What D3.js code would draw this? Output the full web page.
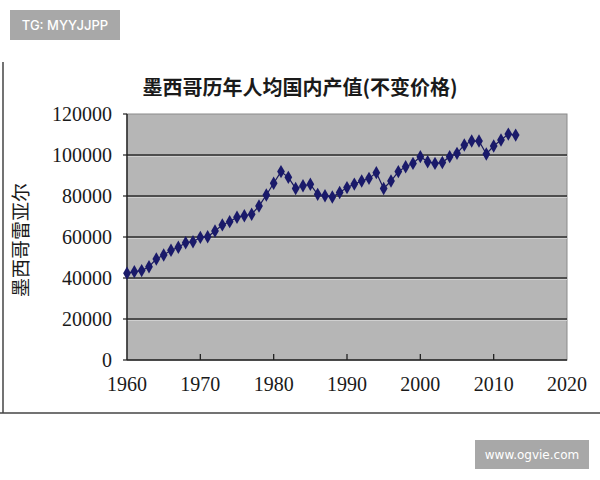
<!DOCTYPE html>
<html><head><meta charset="utf-8">
<script src="https://cdn.jsdelivr.net/npm/d3@7"></script>
<style>html,body{margin:0;padding:0;background:#fff;}</style>
</head><body>
<svg id="c" width="600" height="480"></svg>
<script>
const years = [1960,1961,1962,1963,1964,1965,1966,1967,1968,1969,1970,1971,1972,1973,1974,1975,1976,1977,1978,1979,1980,1981,1982,1983,1984,1985,1986,1987,1988,1989,1990,1991,1992,1993,1994,1995,1996,1997,1998,1999,2000,2001,2002,2003,2004,2005,2006,2007,2008,2009,2010,2011,2012,2013];
const values = [42300,43100,43600,45500,49300,51200,53500,55000,57200,57700,59800,60100,62900,65900,67500,69600,70400,71100,75100,80500,86200,91900,89100,83700,85000,85700,80800,80100,79500,81700,84100,85800,87300,88600,91400,83700,87300,91900,94300,95900,99200,96700,95900,96300,99200,100800,104900,106800,106800,100500,104400,107300,110200,109700];
const xTicks = [1960,1970,1980,1990,2000,2010,2020];
const yTicks = [0,20000,40000,60000,80000,100000,120000];
const title = "墨西哥历年人均国内产值(不变价格)";
const yTitle = "墨西哥雷亚尔";

const svg = d3.select("#c");
const x = d3.scaleLinear().domain([1960,2020]).range([127,567]);
const y = d3.scaleLinear().domain([0,120000]).range([360,114]);

// outer frame (left + bottom)
svg.append("line").attr("x1",3).attr("x2",3).attr("y1",62).attr("y2",413).attr("stroke","#444").attr("stroke-width",1.5);
svg.append("line").attr("x1",0).attr("x2",600).attr("y1",413).attr("y2",413).attr("stroke","#444").attr("stroke-width",1.5);

// plot area
svg.append("rect").attr("x",x(1960)).attr("y",y(120000)).attr("width",x(2020)-x(1960)).attr("height",y(0)-y(120000))
  .attr("fill","#b6b6b6").attr("stroke","#8a8a8a").attr("stroke-width",1);

// gridlines
const grid = svg.append("g");
yTicks.filter(v=>v>0 && v<120000).forEach(v=>{
  grid.append("line").attr("x1",x(1960)).attr("x2",x(2020)).attr("y1",y(v)+1.3).attr("y2",y(v)+1.3).attr("stroke","#d8d8d8").attr("stroke-width",1);
  grid.append("line").attr("x1",x(1960)).attr("x2",x(2020)).attr("y1",y(v)).attr("y2",y(v)).attr("stroke","#2a2a2a").attr("stroke-width",1.4);
});

// axes lines
svg.append("line").attr("x1",x(1960)).attr("x2",x(1960)).attr("y1",y(120000)).attr("y2",y(0)).attr("stroke","#222").attr("stroke-width",1.4);
svg.append("line").attr("x1",x(1960)).attr("x2",x(2020)).attr("y1",y(0)).attr("y2",y(0)).attr("stroke","#222").attr("stroke-width",1.4);

// x ticks (inward) and labels
xTicks.forEach(t=>{
  if(t>1960 && t<2020) svg.append("line").attr("x1",x(t)).attr("x2",x(t)).attr("y1",y(0)).attr("y2",y(0)-6).attr("stroke","#222").attr("stroke-width",1.3);
  svg.append("text").attr("x",x(t)).attr("y",391).attr("text-anchor","middle")
    .attr("font-family","'Liberation Serif', serif").attr("font-size",20).attr("fill","#1a1a1a").text(t);
});
// y ticks and labels
yTicks.forEach(v=>{
  svg.append("line").attr("x1",x(1960)-4).attr("x2",x(1960)).attr("y1",y(v)).attr("y2",y(v)).attr("stroke","#222").attr("stroke-width",1.2);
  svg.append("text").attr("x",112).attr("y",y(v)+7).attr("text-anchor","end")
    .attr("font-family","'Liberation Serif', serif").attr("font-size",20).attr("fill","#1a1a1a").text(v);
});

// line + markers
const line = d3.line().x((d,i)=>x(years[i])).y(d=>y(d));
svg.append("path").datum(values).attr("d",line).attr("fill","none").attr("stroke","#1a1a5e").attr("stroke-width",1.2);
const sym = d3.symbol().type(d3.symbolDiamond).size(52);
svg.append("g").selectAll("path.m").data(values).enter().append("path")
  .attr("transform",(d,i)=>`translate(${x(years[i])},${y(d)})`).attr("d",sym).attr("fill","#1a1a6a");

// title
svg.append("text").attr("x",300).attr("y",95).attr("text-anchor","middle")
  .attr("font-family","'Noto Sans CJK SC', sans-serif").attr("font-weight",700).attr("font-size",20).attr("fill","#1a1a1a").text(title);
// y title
svg.append("text").attr("transform","translate(28,240) rotate(-90)").attr("text-anchor","middle")
  .attr("font-family","'Noto Sans CJK SC', serif").attr("font-size",19).attr("fill","#1a1a1a").text(yTitle);

// watermarks
svg.append("rect").attr("x",10).attr("y",10).attr("width",110).attr("height",30).attr("fill","#a8a8a8");
svg.append("text").attr("x",65).attr("y",30).attr("text-anchor","middle").attr("font-family","Inter, 'DejaVu Sans', sans-serif").attr("font-size",13).attr("font-weight",500).attr("fill","#fff").text("TG: MYYJJPP");
svg.append("rect").attr("x",475).attr("y",440).attr("width",114).attr("height",29).attr("fill","#a8a8a8");
svg.append("text").attr("x",532).attr("y",459).attr("text-anchor","middle").attr("font-family","'DejaVu Sans', sans-serif").attr("font-size",12).attr("fill","#fff").text("www.ogvie.com");
</script>
</body></html>
